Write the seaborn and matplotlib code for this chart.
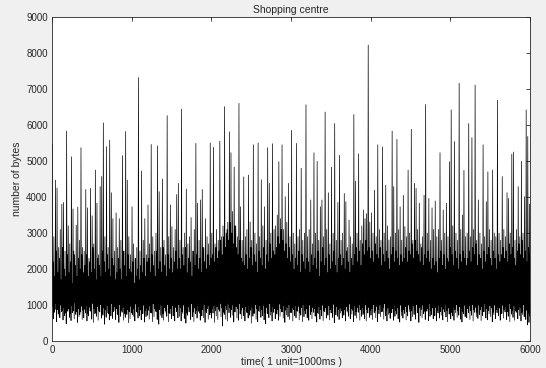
import numpy as np
import pandas as pd

import matplotlib
matplotlib.use("Agg")
import matplotlib.pyplot as plt
import seaborn as sns

# per-bin peak values (one bin ~ 20 time units)
bytes_hi = [
    5470, 2900, 4470, 4250, 2600, 3100, 3800, 3850, 2500, 5830, 3200, 2700, 5120, 3670, 2400, 3220, 3720, 2800, 5370, 2600,
    2500, 4210, 3700, 2300, 4240, 3480, 2700, 4750, 3830, 2400, 4290, 4570, 6060, 2900, 5400, 2600, 5580, 4120, 3400, 2500,
    3560, 2600, 3400, 2800, 5150, 2500, 5820, 4470, 2900, 2400, 3730, 2700, 2300, 2600, 7320, 2500, 4720, 2800, 3400, 2400,
    3780, 2700, 5460, 2900, 2500, 3000, 5420, 4150, 2600, 4500, 2800, 2400, 6260, 2900, 3780, 3180, 2600, 3100, 4070, 4380,
    2800, 6440, 2600, 3000, 4220, 2700, 2900, 3430, 2500, 3100, 5490, 3830, 2800, 3920, 4210, 2600, 3400, 2900, 2700, 5500,
    3000, 5380, 2700, 3100, 2800, 5550, 2900, 3200, 6510, 3000, 3300, 5810, 5230, 3600, 4830, 3200, 2900, 6600, 3730, 2800,
    4560, 2900, 3100, 4610, 3310, 2800, 5450, 3000, 2700, 5500, 2900, 4480, 3200, 3730, 2800, 5370, 4380, 3000, 5480, 3100,
    3200, 3500, 4980, 3400, 5450, 3100, 4010, 3300, 4380, 2900, 5850, 3000, 2700, 5490, 2900, 3100, 4800, 2800, 3000, 6560,
    2900, 3100, 3920, 2700, 5230, 3000, 4990, 2800, 3730, 3920, 2900, 6360, 3100, 4120, 2700, 4830, 3000, 6040, 2800, 3850,
    5160, 2800, 3000, 4100, 3870, 2600, 3360, 2900, 2700, 6290, 4440, 3000, 5200, 2800, 3200, 3640, 3400, 3540, 8220, 3300,
    3560, 3000, 4190, 2900, 5450, 3100, 2800, 5390, 3000, 4330, 3200, 2810, 2900, 5830, 4290, 3000, 5600, 3100, 3730, 2800,
    4050, 3180, 2900, 4750, 3000, 5880, 2800, 4380, 4240, 3100, 3830, 2700, 2900, 4050, 6570, 3000, 3960, 2800, 3700, 3100,
    3890, 2900, 3100, 5230, 2800, 3640, 3000, 3830, 2900, 4980, 6420, 3200, 5540, 3000, 2800, 7160, 3100, 3500, 4740, 2900,
    3000, 6040, 2900, 5650, 3100, 7110, 2800, 3920, 3000, 2700, 5450, 2900, 3870, 4700, 3100, 2800, 4750, 3000, 2900, 6690,
    3000, 2800, 4570, 3100, 2900, 4120, 3960, 3000, 5190, 5250, 2800, 3100, 4290, 2900, 4990, 3000, 4010, 6420, 5680, 3800,
]

# secondary peaks inside each bin (the dense core of the band)
bytes_mid = [
    2200, 1800, 2500, 1900, 2300, 1700, 2600, 2000, 1800, 2400, 1900, 2200, 1600, 2500, 2100, 1800, 2300, 2000, 2400, 1900,
    2100, 2400, 1800, 2200, 1900, 2600, 2000, 1700, 2300, 2100, 1800, 2500, 2200, 1900, 2400, 2000, 1800, 2300, 2100, 1700,
    1900, 2300, 2000, 1700, 2500, 2100, 1800, 2400, 2000, 1900, 2200, 1600, 1800, 2000, 1700, 2100, 1900, 2300, 1800, 2200,
    2300, 1900, 2400, 2100, 1800, 2500, 2000, 2200, 1900, 2600, 2100, 1800, 2400, 2000, 2300, 1900, 2200, 2500, 2000, 2300,
    2000, 2400, 2100, 2600, 1900, 2300, 2200, 1800, 2500, 2100, 2400, 2000, 2300, 1900, 2600, 2200, 2000, 2400, 2100, 2300,
    2400, 2200, 2600, 2300, 2500, 2800, 2400, 2900, 2600, 3100, 2800, 3300, 3000, 2700, 3200, 2600, 2400, 2800, 2300, 2200,
    2100, 2400, 2000, 2300, 2600, 2100, 2400, 2200, 1900, 2500, 2300, 2100, 2600, 2000, 2400, 2200, 2700, 2300, 2500, 2400,
    2600, 2900, 2700, 3100, 2800, 2500, 2700, 2300, 2600, 2200, 2400, 2000, 2300, 2100, 2500, 1900, 2400, 2200, 2000, 2300,
    2200, 1900, 2400, 2100, 2300, 2000, 2500, 1800, 2200, 2600, 2100, 2300, 1900, 2400, 2000, 2200, 2500, 2100, 1900, 2300,
    2400, 2100, 2300, 2000, 2500, 2200, 1900, 2300, 2100, 2400, 2600, 2200, 2500, 2100, 2700, 2400, 2800, 2500, 2600, 2300,
    2500, 2200, 2700, 2400, 2300, 2600, 2100, 2400, 2200, 2500, 2300, 2000, 2400, 2600, 2200, 2500, 2300, 2100, 2400, 2200,
    2300, 2600, 2200, 2500, 2400, 2700, 2300, 2800, 2500, 2400, 2200, 2600, 2100, 2400, 2300, 2500, 2200, 2000, 2300, 2100,
    2200, 1900, 2300, 2500, 2100, 2400, 2000, 2300, 2200, 2600, 2400, 2100, 2500, 2300, 2000, 2400, 2200, 2500, 2300, 2100,
    2300, 2500, 2200, 2600, 2400, 2700, 2100, 2400, 2300, 2000, 2500, 2200, 2400, 2600, 2300, 2100, 2500, 2300, 2000, 2400,
    2200, 2400, 2600, 2300, 2500, 2200, 2700, 2400, 2600, 2300, 2100, 2500, 2700, 2400, 2800, 2300, 2500, 2200, 2600, 2400,
]

# per-bin troughs
bytes_lo = [
    700, 620, 880, 540, 760, 650, 820, 590, 710, 480, 830, 660, 570, 790, 620, 740, 520, 680, 810, 600,
    650, 780, 560, 700, 840, 610, 520, 760, 690, 580, 810, 640, 720, 470, 660, 790, 590, 700, 630, 850,
    600, 740, 520, 690, 800, 580, 660, 740, 510, 620, 780, 690, 560, 820, 640, 700, 590, 760, 530, 680,
    720, 610, 790, 540, 680, 830, 600, 470, 720, 650, 580, 800, 690, 540, 760, 620, 700, 560, 820, 650,
    690, 560, 770, 630, 500, 720, 810, 600, 680, 540, 760, 640, 830, 580, 700, 650, 520, 790, 610, 730,
    640, 780, 520, 700, 600, 830, 680, 420, 740, 610, 560, 790, 660, 720, 530, 810, 640, 580, 750, 620,
    700, 560, 800, 640, 720, 500, 690, 770, 610, 540, 820, 660, 700, 590, 480, 760, 650, 720, 560, 800,
    620, 750, 580, 690, 810, 640, 520, 730, 680, 600, 790, 560, 710, 650, 830, 590, 720, 540, 680, 760,
    650, 580, 740, 620, 800, 690, 530, 760, 610, 700, 570, 820, 640, 720, 590, 780, 660, 510, 730, 690,
    600, 780, 650, 720, 560, 830, 690, 620, 750, 540, 710, 640, 800, 580, 690, 740, 620, 560, 780, 660,
    720, 600, 790, 650, 540, 760, 680, 820, 610, 700, 560, 740, 630, 790, 580, 690, 750, 620, 530, 710,
    640, 770, 590, 700, 820, 560, 680, 740, 610, 790, 520, 700, 650, 760, 600, 830, 570, 690, 740, 620,
    700, 560, 780, 640, 720, 590, 810, 670, 540, 750, 620, 700, 580, 790, 660, 720, 610, 530, 760, 680,
    650, 790, 600, 720, 560, 800, 680, 630, 740, 570, 710, 820, 640, 590, 760, 680, 540, 730, 620, 790,
    700, 580, 760, 640, 810, 600, 690, 540, 750, 660, 580, 800, 620, 710, 560, 740, 680, 600, 450, 520,
]

# secondary troughs inside each bin
bytes_lo2 = [
    950, 800, 1050, 880, 720, 1000, 860, 940, 780, 1020, 900, 760, 980, 840, 1060, 820, 900, 740, 970, 860,
    880, 1000, 760, 940, 830, 1050, 900, 790, 960, 850, 1010, 780, 920, 870, 990, 760, 900, 1040, 820, 950,
    900, 780, 1020, 860, 940, 760, 1000, 880, 820, 970, 740, 900, 1030, 800, 950, 870, 780, 1000, 850, 920,
    860, 980, 780, 1040, 900, 820, 960, 880, 1000, 760, 930, 850, 1020, 790, 900, 980, 820, 940, 870, 1010,
    940, 820, 1000, 870, 780, 960, 900, 1040, 810, 920, 860, 1000, 780, 950, 880, 1020, 840, 900, 980, 800,
    900, 1000, 840, 960, 880, 1050, 920, 800, 990, 870, 1030, 940, 880, 1000, 820, 960, 900, 1040, 860, 930,
    880, 960, 800, 1000, 860, 940, 780, 1020, 900, 840, 980, 870, 1000, 800, 930, 880, 1040, 820, 960, 900,
    950, 870, 1030, 900, 820, 990, 860, 940, 1010, 800, 920, 880, 1000, 840, 960, 780, 930, 1020, 860, 900,
    860, 1000, 820, 940, 900, 1040, 780, 960, 880, 1000, 840, 920, 780, 990, 870, 940, 1020, 830, 960, 880,
    920, 840, 1000, 880, 960, 800, 1030, 900, 860, 980, 820, 940, 1010, 870, 930, 790, 1000, 880, 940, 860,
    900, 1020, 840, 960, 880, 1000, 820, 940, 1040, 860, 920, 800, 980, 900, 1030, 850, 940, 880, 1000, 820,
    880, 960, 820, 1000, 900, 840, 980, 870, 1020, 800, 940, 880, 1000, 830, 960, 900, 1040, 860, 920, 980,
    940, 860, 1000, 820, 960, 890, 1030, 850, 920, 980, 800, 950, 880, 1010, 840, 960, 900, 820, 1000, 870,
    900, 980, 840, 1020, 880, 940, 800, 1000, 870, 960, 820, 1040, 900, 850, 980, 920, 800, 1000, 880, 940,
    920, 860, 1000, 880, 960, 820, 1040, 900, 860, 980, 840, 1000, 880, 940, 800, 1020, 900, 860, 780, 700,
]

x_ticks = [0, 1000, 2000, 3000, 4000, 5000, 6000]
y_ticks = [0, 1000, 2000, 3000, 4000, 5000, 6000, 7000, 8000, 9000]

# trough, peak, trough, secondary peak ... for every bin
values = np.column_stack([bytes_lo, bytes_hi, bytes_lo2, bytes_mid]).ravel()
df = pd.DataFrame({"time": np.linspace(0, 6000, values.size), "bytes": values})

sns.set_style("white")
plt.rcParams["font.family"] = ["Liberation Sans", "DejaVu Sans"]

fig = plt.figure(figsize=(5.46, 3.68), dpi=100, facecolor="#f0f0f0")
ax = fig.add_axes([0.095, 0.073, 0.876, 0.881])
ax.set_facecolor("white")

sns.lineplot(data=df, x="time", y="bytes", color="black", linewidth=0.5, ax=ax)

ax.set_xlim(0, 6000)
ax.set_ylim(0, 9000)
ax.set_xticks(x_ticks)
ax.set_yticks(y_ticks)
ax.tick_params(direction="in", length=3, width=0.6, labelsize=7, colors="#262626",
               top=True, right=True, labeltop=False, labelright=False, pad=3)
for spine in ax.spines.values():
    spine.set_visible(True)
    spine.set_color("#262626")
    spine.set_linewidth(0.6)

ax.set_title("Shopping centre", fontsize=7.5, color="#262626", pad=3)
ax.set_xlabel("time( 1 unit=1000ms )", fontsize=7.5, color="#262626", labelpad=1)
ax.set_ylabel("number of bytes", fontsize=7.5, color="#262626", labelpad=3)

fig.savefig("out.png", dpi=100, facecolor=fig.get_facecolor())
